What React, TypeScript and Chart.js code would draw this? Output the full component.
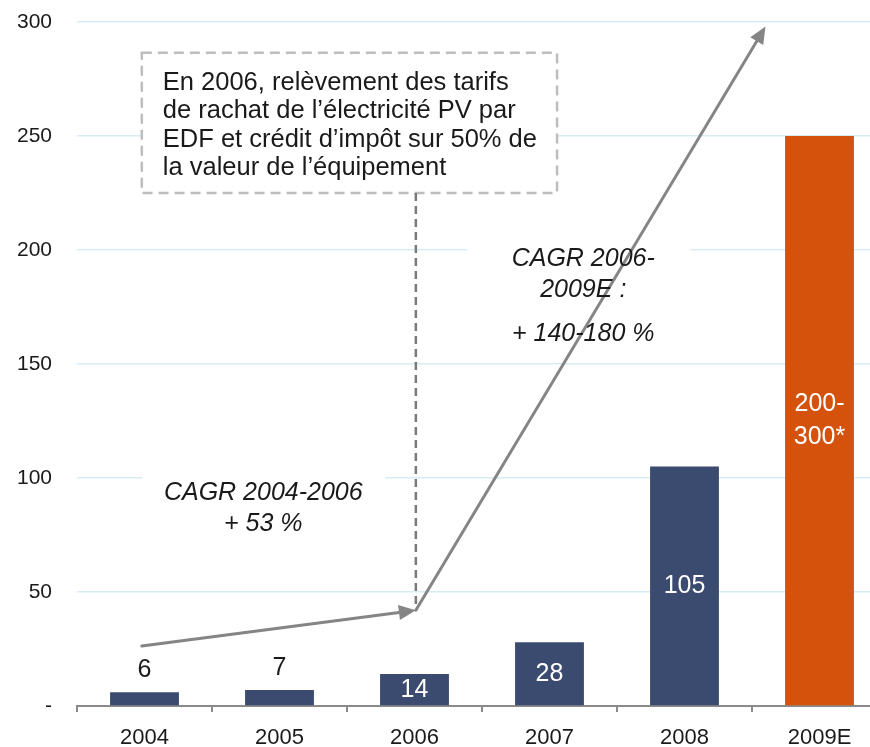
import React, { useEffect, useRef } from "react";
import { Chart, registerables } from "chart.js";

Chart.register(...registerables);

// ---- data ----
const categories = ["2004", "2005", "2006", "2007", "2008", "2009E"];
const values = [6, 7, 14, 28, 105, 250];
const valueLabels = ["6", "7", "14", "28", "105", "200-\n300*"];
const labelInside = [false, false, true, true, true, true];
const barColors = ["#3B4A6F", "#3B4A6F", "#3B4A6F", "#3B4A6F", "#3B4A6F", "#D4520B"];
const yTickValues = [0, 50, 100, 150, 200, 250, 300];

// ---- annotations (category index, value) ----
const noteLines = [
  "En 2006, relèvement des tarifs",
  "de rachat de l’électricité PV par",
  "EDF et crédit d’impôt sur 50% de",
  "la valeur de l’équipement",
];
const noteBox = { i0: -0.02, i1: 3.056, v0: 286.5, v1: 225 };
const cagr1Lines = ["CAGR 2004-2006", "+ 53 %"];
const cagr1Anchor = { i: 0.88, v: 93.6 };
const cagr2Lines = ["CAGR 2006-", "2009E :", "+ 140-180 %"];
const cagr2Offsets = [0, 31, 75];
const cagr2Anchor = { i: 3.25, v: 196 };
const arrowA = [[-0.02, 26.3], [2.01, 42]];
const arrowB = [[2.01, 42], [4.6, 298]];
const dashedLine = [[2.01, 225], [2.01, 42]];

const FONT = "'Liberation Sans', Arial, Helvetica, sans-serif";

function drawArrow(ctx: CanvasRenderingContext2D, x0: number, y0: number, x1: number, y1: number, head: boolean) {
  const ang = Math.atan2(y1 - y0, x1 - x0);
  const hl = 17, hw = 7.5;
  ctx.save();
  ctx.strokeStyle = "#858585";
  ctx.fillStyle = "#858585";
  ctx.lineWidth = 3;
  ctx.lineCap = "round";
  ctx.beginPath();
  ctx.moveTo(x0, y0);
  const ex = head ? x1 - Math.cos(ang) * (hl - 2) : x1;
  const ey = head ? y1 - Math.sin(ang) * (hl - 2) : y1;
  ctx.lineTo(ex, ey);
  ctx.stroke();
  if (head) {
    const bx = x1 - Math.cos(ang) * hl;
    const by = y1 - Math.sin(ang) * hl;
    ctx.beginPath();
    ctx.moveTo(x1, y1);
    ctx.lineTo(bx + Math.sin(ang) * hw, by - Math.cos(ang) * hw);
    ctx.lineTo(bx - Math.sin(ang) * hw, by + Math.cos(ang) * hw);
    ctx.closePath();
    ctx.fill();
  }
  ctx.restore();
}

const annotationPlugin = {
  id: "annotations",
  beforeDatasetsDraw(chart: any) {
    const ctx: CanvasRenderingContext2D = chart.ctx;
    const xs = chart.scales.x, ys = chart.scales.y;
    ctx.save();
    ctx.fillStyle = "#ffffff";
    const c1x = xs.getPixelForValue(cagr1Anchor.i), c1y = ys.getPixelForValue(cagr1Anchor.v);
    ctx.fillRect(c1x - 121, c1y - 22, 243, 66);
    const c2x = xs.getPixelForValue(cagr2Anchor.i), c2y = ys.getPixelForValue(cagr2Anchor.v);
    ctx.fillRect(c2x - 116, c2y - 24, 223, 110);
    const bx0 = xs.getPixelForValue(noteBox.i0), bx1 = xs.getPixelForValue(noteBox.i1);
    const by0 = ys.getPixelForValue(noteBox.v0), by1 = ys.getPixelForValue(noteBox.v1);
    ctx.fillRect(bx0, by0, bx1 - bx0, by1 - by0);
    ctx.restore();
  },
  afterDatasetsDraw(chart: any) {
    const ctx: CanvasRenderingContext2D = chart.ctx;
    const xs = chart.scales.x, ys = chart.scales.y;
    const meta = chart.getDatasetMeta(0);

    ctx.save();
    ctx.textAlign = "center";
    ctx.textBaseline = "middle";
    ctx.font = `25px ${FONT}`;
    meta.data.forEach((bar: any, idx: number) => {
      const lines = valueLabels[idx].split("\n");
      if (labelInside[idx]) {
        ctx.fillStyle = "#ffffff";
        const cy = (bar.y + bar.base) / 2;
        const lh = 33;
        lines.forEach((ln, k) => {
          ctx.fillText(ln, bar.x, cy + (k - (lines.length - 1) / 2) * lh);
        });
      } else {
        ctx.fillStyle = "#1a1a1a";
        ctx.fillText(lines[0], bar.x, bar.y - 22);
      }
    });
    ctx.restore();

    const bx0 = xs.getPixelForValue(noteBox.i0), bx1 = xs.getPixelForValue(noteBox.i1);
    const by0 = ys.getPixelForValue(noteBox.v0), by1 = ys.getPixelForValue(noteBox.v1);
    ctx.save();
    ctx.strokeStyle = "#BDBDBD";
    ctx.lineWidth = 2.5;
    ctx.setLineDash([10, 6]);
    ctx.strokeRect(bx0, by0, bx1 - bx0, by1 - by0);
    ctx.restore();

    ctx.save();
    ctx.fillStyle = "#1a1a1a";
    ctx.font = `25.5px ${FONT}`;
    ctx.textAlign = "left";
    ctx.textBaseline = "middle";
    noteLines.forEach((ln, k) => {
      ctx.fillText(ln, bx0 + 21, by0 + 30 + k * 28.5);
    });
    ctx.restore();

    ctx.save();
    ctx.strokeStyle = "#7A7A7A";
    ctx.lineWidth = 2.5;
    ctx.setLineDash([8, 5]);
    ctx.beginPath();
    ctx.moveTo(xs.getPixelForValue(dashedLine[0][0]), ys.getPixelForValue(dashedLine[0][1]));
    ctx.lineTo(xs.getPixelForValue(dashedLine[1][0]), ys.getPixelForValue(dashedLine[1][1]));
    ctx.stroke();
    ctx.restore();

    drawArrow(ctx,
      xs.getPixelForValue(arrowA[0][0]), ys.getPixelForValue(arrowA[0][1]),
      xs.getPixelForValue(arrowA[1][0]), ys.getPixelForValue(arrowA[1][1]), true);
    drawArrow(ctx,
      xs.getPixelForValue(arrowB[0][0]), ys.getPixelForValue(arrowB[0][1]),
      xs.getPixelForValue(arrowB[1][0]), ys.getPixelForValue(arrowB[1][1]), true);

    ctx.save();
    ctx.fillStyle = "#1a1a1a";
    ctx.font = `italic 25px ${FONT}`;
    ctx.textAlign = "center";
    ctx.textBaseline = "middle";
    const c1x = xs.getPixelForValue(cagr1Anchor.i), c1y = ys.getPixelForValue(cagr1Anchor.v);
    cagr1Lines.forEach((ln, k) => ctx.fillText(ln, c1x, c1y + k * 31));
    const c2x = xs.getPixelForValue(cagr2Anchor.i), c2y = ys.getPixelForValue(cagr2Anchor.v);
    cagr2Lines.forEach((ln, k) => ctx.fillText(ln, c2x, c2y + cagr2Offsets[k]));
    ctx.restore();
  },
};

export default function App() {
  const ref = useRef<HTMLCanvasElement | null>(null);
  useEffect(() => {
    if (!ref.current) return;
    const chart = new Chart(ref.current, {
      type: "bar",
      data: {
        labels: categories,
        datasets: [
          {
            data: values,
            backgroundColor: barColors,
            borderWidth: 0,
            categoryPercentage: 1,
            barPercentage: 0.51,
          },
        ],
      },
      options: {
        responsive: false,
        animation: false,
        layout: { padding: { top: 22, left: 0, right: 3, bottom: 0 } },
        plugins: { legend: { display: false }, tooltip: { enabled: false } },
        scales: {
          x: {
            grid: {
              display: true,
              drawOnChartArea: false,
              drawTicks: true,
              tickLength: 6,
              color: "#8A8A8A",
              lineWidth: 2,
            },
            border: { display: true, color: "#8A8A8A", width: 2 },
            ticks: {
              color: "#1a1a1a",
              font: { family: FONT, size: 22 },
              padding: 13,
              maxRotation: 0,
            },
            afterFit: (s: any) => { s.height = 41; s.paddingLeft = 0; s.paddingRight = 0; },
          },
          y: {
            min: 0,
            max: 300,
            afterBuildTicks: (s: any) => { s.ticks = yTickValues.map((v) => ({ value: v })); },
            grid: {
              color: (c: any) => (c.tick && c.tick.value === 0 ? "rgba(0,0,0,0)" : "#D8EBF6"),
              lineWidth: 1.5,
              drawTicks: false,
            },
            border: { display: false },
            ticks: {
              color: "#1a1a1a",
              font: { family: FONT, size: 21 },
              padding: 25,
              callback: (v: any) => (Number(v) === 0 ? "-" : String(v)),
            },
            afterFit: (s: any) => { s.width = 77; s.paddingTop = 0; s.paddingBottom = 0; },
          },
        },
      },
      plugins: [annotationPlugin],
    });
    return () => chart.destroy();
  }, []);
  return (
    <div style={{ position: "fixed", left: 0, top: 0, width: 870, height: 747, overflow: "hidden", background: "#fff" }}>
      <canvas ref={ref} width={890} height={747} style={{ display: "block", width: 890, height: 747 }} />
    </div>
  );
}
